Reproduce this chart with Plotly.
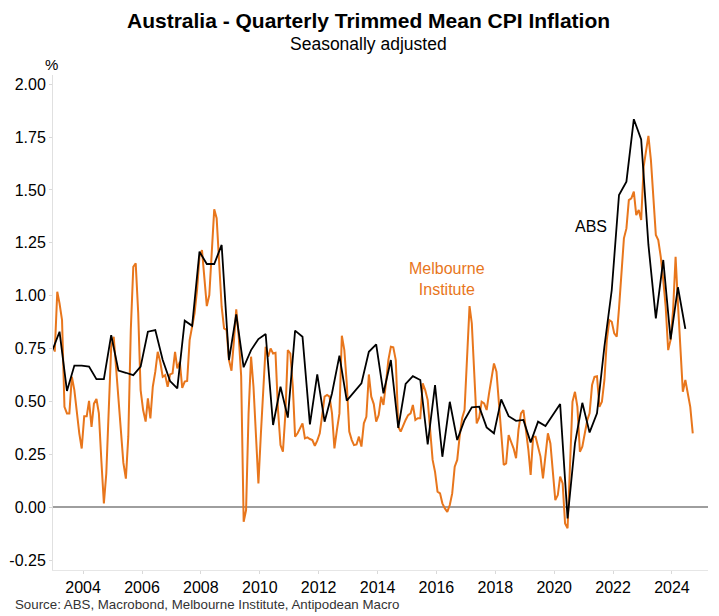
import pandas as pd
import plotly.graph_objects as go

# ABS quarterly trimmed mean (q/q %), 2002Q4 .. 2024Q2
abs_q = [0.74, 0.83, 0.55, 0.67, 0.67, 0.665, 0.606, 0.606, 0.814, 0.646,
         0.636, 0.625, 0.665, 0.83, 0.838, 0.696, 0.597, 0.562, 0.882, 0.858,
         1.208, 1.15, 1.15, 1.24, 0.696, 0.912, 0.662, 0.743, 0.795, 0.819,
         0.389, 0.570, 0.424, 0.835, 0.806, 0.392, 0.628, 0.405, 0.539, 0.717,
         0.504, 0.543, 0.586, 0.735, 0.770, 0.539, 0.696, 0.376, 0.583, 0.620,
         0.602, 0.298, 0.578, 0.239, 0.499, 0.318, 0.413, 0.473, 0.476, 0.378,
         0.350, 0.510, 0.431, 0.409, 0.413, 0.307, 0.405, 0.384, 0.434, 0.488,
         -0.052, 0.302, 0.494, 0.354, 0.444, 0.76, 1.027, 1.476, 1.539, 1.834,
         1.739, 1.24, 0.893, 1.169, 0.794, 1.040, 0.843]

# Melbourne Institute monthly trimmed mean, Jan 2003 .. Sep 2024
mi_2003_2007 = [0.735, 1.019, 0.964, 0.885, 0.475, 0.444, 0.444, 0.617, 0.554, 0.444, 0.35, 0.278,
                0.43, 0.43, 0.503, 0.38, 0.49, 0.512, 0.444, 0.22, 0.019, 0.16, 0.444, 0.759,
                0.806, 0.65, 0.54, 0.38, 0.21, 0.136, 0.334, 0.838, 1.137, 1.153, 0.917, 0.554,
                0.46, 0.405, 0.515, 0.42, 0.57, 0.641, 0.735, 0.688, 0.617, 0.625, 0.57, 0.628,
                0.633, 0.735, 0.657, 0.688, 0.565, 0.594, 0.597, 0.79, 0.853, 0.917, 1.027, 1.184]
mi_2008_2012 = [1.216, 1.074, 0.951, 1.003, 1.232, 1.408, 1.366, 1.153, 0.948, 0.846, 0.838, 0.696,
                0.646, 0.791, 0.936, 0.806, 0.62, -0.068, -0.013, 0.444, 0.712, 0.570, 0.318, 0.113,
                0.350, 0.539, 0.759, 0.712, 0.751, 0.727, 0.73, 0.46, 0.294, 0.263, 0.444, 0.743,
                0.727, 0.570, 0.334, 0.350, 0.373, 0.397, 0.326, 0.331, 0.323, 0.318, 0.291, 0.315,
                0.350, 0.444, 0.523, 0.531, 0.523, 0.444, 0.279, 0.366, 0.444, 0.811, 0.743, 0.586]
mi_2013_2017 = [0.358, 0.318, 0.294, 0.297, 0.334, 0.287, 0.397, 0.428, 0.628, 0.523, 0.488, 0.405,
                0.436, 0.523, 0.484, 0.586, 0.696, 0.759, 0.756, 0.696, 0.381, 0.358, 0.389, 0.413,
                0.436, 0.444, 0.484, 0.413, 0.421, 0.421, 0.586, 0.554, 0.507, 0.366, 0.224, 0.168,
                0.074, 0.066, 0.019, -0.005, -0.021, 0.011, 0.066, 0.192, 0.224, 0.334, 0.421, 0.460,
                0.712, 0.951, 0.870, 0.602, 0.397, 0.425, 0.499, 0.491, 0.460, 0.539, 0.617, 0.680]
mi_2018_2024 = [0.641, 0.476, 0.318, 0.200, 0.208, 0.342, 0.310, 0.279, 0.232, 0.366, 0.444, 0.460,
                0.366, 0.271, 0.153, 0.334, 0.334, 0.287, 0.24, 0.137, 0.254, 0.350, 0.302, 0.176,
                0.034, 0.058, 0.145, 0.113, -0.076, -0.099, 0.192, 0.499, 0.546, 0.475, 0.263, 0.287,
                0.350, 0.413, 0.444, 0.578, 0.617, 0.620, 0.475, 0.499, 0.602, 0.791, 0.885, 0.877,
                0.822, 0.806, 0.940, 1.121, 1.271, 1.318, 1.452, 1.460, 1.492, 1.381, 1.405, 1.358,
                1.610, 1.688, 1.755, 1.641, 1.468, 1.287, 1.263, 1.184, 1.074, 0.948, 0.743, 0.791,
                0.932, 1.184, 0.964, 0.743, 0.546, 0.602, 0.538, 0.475, 0.350]
mi_m = mi_2003_2007 + mi_2008_2012 + mi_2013_2017 + mi_2018_2024

mi_dates = pd.date_range("2003-01-01", periods=len(mi_m), freq="MS") + pd.Timedelta(days=14)
abs_dates = pd.date_range("2002-12-01", periods=len(abs_q), freq="3MS") + pd.Timedelta(days=14)

y_ticks = [-0.25, 0, 0.25, 0.5, 0.75, 1.0, 1.25, 1.5, 1.75, 2.0]
y_tick_labels = [f"{v:.2f}" for v in y_ticks]

ORANGE = "#E8761C"
FONT = "Liberation Sans, Arial, sans-serif"

fig = go.Figure()
fig.add_trace(go.Scatter(x=mi_dates, y=mi_m, mode="lines", name="Melbourne Institute",
                         line=dict(color=ORANGE, width=2)))
fig.add_trace(go.Scatter(x=abs_dates, y=abs_q, mode="lines", name="ABS",
                         line=dict(color="#000000", width=1.8)))

fig.update_layout(
    width=711, height=608,
    margin=dict(l=45, r=11, t=67, b=46, autoexpand=False),
    paper_bgcolor="white", plot_bgcolor="white",
    showlegend=False,
    font=dict(family=FONT, size=16, color="#000000"),
    xaxis=dict(type="date", range=["2002-12-24", "2025-03-23"],
               tick0="2004-01-01", dtick="M24", tickformat="%Y",
               showgrid=False, zeroline=False,
               showline=True, linecolor="#e6e6e6", linewidth=1,
               ticks="outside", ticklen=3, tickcolor="#d9d9d9",
               tickfont=dict(size=16, family=FONT)),
    yaxis=dict(range=[-0.296, 2.043], tickmode="array", tickvals=y_ticks, ticktext=y_tick_labels,
               showgrid=False, zeroline=True, zerolinecolor="#9e9e9e", zerolinewidth=1.5,
               showline=True, linecolor="#e0e0e0", linewidth=1,
               ticks="outside", ticklen=3, tickcolor="#d9d9d9",
               tickfont=dict(size=16, family=FONT)),
    annotations=[
        dict(text="<b>Australia - Quarterly Trimmed Mean CPI Inflation</b>", xref="paper", yref="paper",
             x=0.482, y=1.111, xanchor="center", yanchor="middle", showarrow=False,
             font=dict(size=21, family=FONT, color="#000000")),
        dict(text="Seasonally adjusted", xref="paper", yref="paper",
             x=0.482, y=1.0626, xanchor="center", yanchor="middle", showarrow=False,
             font=dict(size=17.5, family=FONT, color="#000000")),
        dict(text="%", xref="paper", yref="paper",
             x=-0.002, y=1.0222, xanchor="center", yanchor="middle", showarrow=False,
             font=dict(size=15, family=FONT, color="#000000")),
        dict(text="Source: ABS, Macrobond, Melbourne Institute, Antipodean Macro",
             xref="paper", yref="paper", x=-0.061, y=-0.0687, xanchor="left", yanchor="middle",
             showarrow=False, font=dict(size=13.3, family=FONT, color="#333333")),
        dict(text="ABS", xref="x", yref="y", x="2021-04-01", y=1.326,
             xanchor="center", yanchor="middle", showarrow=False,
             font=dict(size=16, family=FONT, color="#000000")),
        dict(text="Melbourne<br>Institute", xref="x", yref="y", x="2016-05-15", y=1.077,
             xanchor="center", yanchor="middle", showarrow=False,
             font=dict(size=16, family=FONT, color=ORANGE)),
    ],
)

fig.write_html("out.html")
